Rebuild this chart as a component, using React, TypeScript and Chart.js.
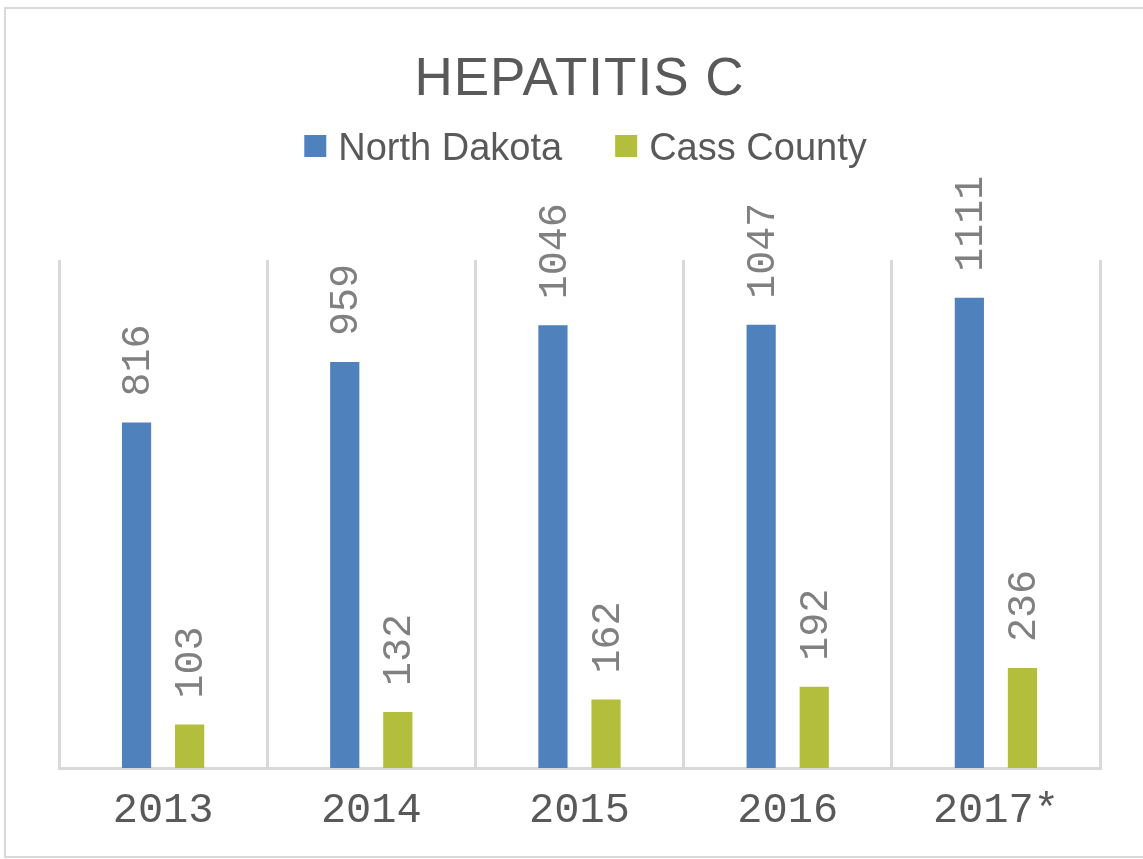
import { useEffect, useRef } from 'react';
import { Chart, registerables } from 'chart.js';

Chart.register(...registerables);

const TITLE = 'HEPATITIS C';
const categories = ['2013', '2014', '2015', '2016', '2017*'];
const northDakota = [816, 959, 1046, 1047, 1111];
const cassCounty = [103, 132, 162, 192, 236];
const seriesNames = ['North Dakota', 'Cass County'];
const seriesColors = ['#4f81bd', '#b3be3c'];
const Y_MAX = 1200;

const W = 1143;
const H = 859;

const decorPlugin = {
  id: 'decor',
  beforeDraw(chart: any) {
    const ctx = chart.ctx as CanvasRenderingContext2D;
    ctx.save();
    ctx.fillStyle = '#ffffff';
    ctx.fillRect(0, 0, W, H);
    ctx.strokeStyle = '#d9d9d9';
    ctx.lineWidth = 2;
    ctx.strokeRect(5, 8, W + 20, 849);

    // title
    const cx = (chart.chartArea.left + chart.chartArea.right) / 2;
    ctx.fillStyle = '#595959';
    ctx.font = '53px "Liberation Sans", Arial, sans-serif';
    (ctx as any).letterSpacing = '1px';
    ctx.textAlign = 'center';
    ctx.textBaseline = 'alphabetic';
    ctx.fillText(TITLE, cx, 95);
    (ctx as any).letterSpacing = '0px';

    // legend
    ctx.font = '38px "Liberation Sans", Arial, sans-serif';
    const box = 22;
    const gapBoxText = 12;
    const gapItems = 53;
    const widths = seriesNames.map((n) => ctx.measureText(n).width);
    const total = widths.reduce((a, w) => a + box + gapBoxText + w, 0) + gapItems * (seriesNames.length - 1);
    let x = cx + 6 - total / 2;
    ctx.textAlign = 'left';
    seriesNames.forEach((n, i) => {
      ctx.fillStyle = seriesColors[i];
      ctx.fillRect(x, 135, box, box);
      ctx.fillStyle = '#595959';
      ctx.fillText(n, x + box + gapBoxText, 160);
      x += box + gapBoxText + widths[i] + gapItems;
    });
    ctx.restore();
  },
  afterDatasetsDraw(chart: any) {
    const ctx = chart.ctx as CanvasRenderingContext2D;
    ctx.save();
    ctx.fillStyle = '#808080';
    ctx.font = '40px "Liberation Mono", monospace';
    ctx.textAlign = 'left';
    ctx.textBaseline = 'middle';
    chart.data.datasets.forEach((ds: any, di: number) => {
      const meta = chart.getDatasetMeta(di);
      meta.data.forEach((bar: any, i: number) => {
        ctx.save();
        ctx.translate(bar.x + 2, bar.y - 26);
        ctx.rotate(-Math.PI / 2);
        ctx.fillText(String(ds.data[i]), 0, 0);
        ctx.restore();
      });
    });
    ctx.restore();
  },
};

export default function App() {
  const ref = useRef<HTMLCanvasElement | null>(null);
  useEffect(() => {
    document.body.style.margin = '0';
    if (!ref.current) return;
    const chart = new Chart(ref.current, {
      type: 'bar',
      data: {
        labels: categories,
        datasets: [
          {
            label: seriesNames[0],
            data: northDakota,
            backgroundColor: seriesColors[0],
            categoryPercentage: 0.51,
            barPercentage: 0.55,
          },
          {
            label: seriesNames[1],
            data: cassCounty,
            backgroundColor: seriesColors[1],
            categoryPercentage: 0.51,
            barPercentage: 0.55,
          },
        ],
      },
      options: {
        animation: false,
        responsive: false,
        devicePixelRatio: 1,
        layout: { padding: { left: 59, right: 43, top: 260, bottom: 31 } },
        plugins: {
          legend: { display: false },
          title: { display: false },
          tooltip: { enabled: false },
        },
        scales: {
          x: {
            grid: { color: '#d9d9d9', lineWidth: 3, drawTicks: false, offset: true },
            border: { display: true, color: '#d9d9d9', width: 3 },
            ticks: {
              color: '#595959',
              font: { family: '"Liberation Mono", monospace', size: 42 },
              padding: 18,
            },
            afterFit: (scale: any) => {
              scale.height = 60;
            },
          },
          y: {
            display: false,
            min: 0,
            max: Y_MAX,
          },
        },
      },
      plugins: [decorPlugin],
    });
    return () => chart.destroy();
  }, []);
  return (
    <div style={{ position: 'absolute', left: 0, top: 0, width: W, height: H }}>
      <canvas ref={ref} width={W} height={H} style={{ width: W, height: H, display: 'block' }} />
    </div>
  );
}
